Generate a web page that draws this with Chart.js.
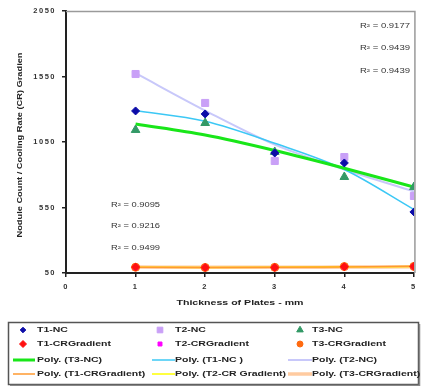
<!DOCTYPE html>
<html>
<head>
<meta charset="utf-8">
<script src="https://cdn.jsdelivr.net/npm/chart.js@4.4.1/dist/chart.umd.min.js"></script>
<style>
html,body{margin:0;padding:0;background:#fff;}
canvas{display:block;}
</style>
</head>
<body>
<canvas id="c" width="421" height="386"></canvas>
<script>
// ---- data ----
const thickness = [1, 2, 3, 4, 5];
const t1NC = [1287, 1264, 966, 890, 516];
const t2NC = [1569, 1348, 905, 935, 638];
const t3NC = [1142, 1195, 974, 783, 706];
const t1CR = [95, 92, 92, 98, 100];
const t2CR = [93, 92, 92, 96, 99];
const t3CR = [94, 92, 93, 99, 100];
const polyT3NC = [1187, 1103, 985, 850, 706];
const polyT1NC = [1290, 1208, 1040, 840, 535];
const polyT2NC = [1575, 1290, 1030, 840, 672];
const polyT1CR = [94, 92, 93, 96, 101];
const polyT2CR = [94, 92, 93, 97, 99];
const polyT3CR = [95, 93, 93, 95, 97];
const xTicks = [0, 1, 2, 3, 4, 5];
const yTicks = [50, 550, 1050, 1550, 2050];
const r2Right = ['R² = 0.9177', 'R² = 0.9439', 'R² = 0.9439'];
const r2Left = ['R² = 0.9095', 'R² = 0.9216', 'R² = 0.9499'];
const xTitle = 'Thickness of Plates - mm';
const yTitle = 'Nodule Count / Cooling Rate (CR) Gradien';

const FAM = '"Liberation Sans", Arial, sans-serif';
const pts = arr => thickness.map((x, i) => ({x: x, y: arr[i]}));

function markerSet(label, arr, style, radius, color, legendRadius) {
  return {label, data: pts(arr), showLine: false, pointStyle: style, pointRadius: radius,
    pointBackgroundColor: color, pointBorderColor: color, pointBorderWidth: 1, order: 0,
    _kind: 'marker', _legendRadius: legendRadius};
}
function polySet(label, arr, color, width) {
  return {label, data: pts(arr), showLine: true, pointRadius: 0, borderColor: color,
    backgroundColor: color, borderWidth: width, cubicInterpolationMode: 'monotone', fill: false,
    order: 1, _kind: 'line'};
}

const datasets = [
  markerSet('T1-NC', t1NC, 'rectRot', 4, '#0c0ca8', 2.8),
  markerSet('T2-NC', t2NC, 'rect', 5, '#c9a0f7', 4),
  markerSet('T3-NC', t3NC, 'triangle', 5, '#339966', 3.8),
  markerSet('T1-CRGradient', t1CR, 'rectRot', 4, '#ff1010', 3.5),
  markerSet('T2-CRGradient', t2CR, 'rect', 3, '#ff00ff', 2.8),
  markerSet('T3-CRGradient', t3CR, 'circle', 4, '#ff6a10', 3),
  polySet('Poly. (T3-NC)', polyT3NC, '#19e619', 3),
  polySet('Poly. (T1-NC )', polyT1NC, '#3cc8f5', 1.5),
  polySet('Poly. (T2-NC)', polyT2NC, '#c8c8fa', 2),
  polySet('Poly. (T1-CRGradient)', polyT1CR, '#ff9a30', 1.5),
  polySet('Poly. (T2-CR Gradient)', polyT2CR, '#ffff00', 1.5),
  polySet('Poly. (T3-CRGradient)', polyT3CR, '#ffcba0', 3.5)
];
datasets[11].order = 3; datasets[10].order = 2; datasets[9].order = 2;

function stretchText(ctx, text, x, y, targetW, align) {
  const w = ctx.measureText(text).width;
  const sx = targetW / w;
  ctx.save();
  ctx.translate(x, y);
  ctx.scale(sx, 1);
  ctx.textAlign = align || 'left';
  ctx.fillText(text, 0, 0);
  ctx.restore();
}

const decor = {
  id: 'decor',
  beforeDraw(chart) {
    chart.ctx.letterSpacing = '1.5px';
  },
  beforeDatasetsDraw(chart) {
    chart.ctx.letterSpacing = '0px';
    const {ctx, chartArea: a} = chart;
    ctx.save();
    ctx.strokeStyle = '#9a9a9a';
    ctx.lineWidth = 1.5;
    ctx.beginPath();
    ctx.moveTo(a.left, a.top + 0.5);
    ctx.lineTo(a.right + 1, a.top + 0.5);
    ctx.lineTo(a.right + 1, a.bottom);
    ctx.stroke();
    ctx.restore();
  },
  afterDraw(chart) {
    const {ctx, chartArea: a} = chart;
    ctx.save();
    ctx.letterSpacing = '0px';
    ctx.fillStyle = '#222';
    ctx.textBaseline = 'middle';
    ctx.font = 'bold 7px ' + FAM;
    stretchText(ctx, xTitle, (a.left + a.right) / 2, 303, 127, 'center');
    ctx.save();
    ctx.translate(20, (a.top + a.bottom) / 2 + 3);
    ctx.rotate(-Math.PI / 2);
    ctx.font = 'bold 7.5px ' + FAM;
    stretchText(ctx, yTitle, 0, 0, 185, 'center');
    ctx.restore();
    ctx.font = '6.5px ' + FAM;
    ctx.fillStyle = '#333';
    r2Right.forEach((t, i) => stretchText(ctx, t, 410, 26 + i * 22.5, 50, 'right'));
    r2Left.forEach((t, i) => stretchText(ctx, t, 111, 205 + i * 21.5, 49, 'left'));
    // legend box
    ctx.strokeStyle = '#555';
    ctx.lineWidth = 1.5;
    ctx.strokeRect(8.5, 322.5, 410, 62);
    ctx.strokeStyle = '#888';
    ctx.beginPath();
    ctx.moveTo(10, 385.5); ctx.lineTo(419.5, 385.5); ctx.lineTo(419.5, 324);
    ctx.stroke();
    const colMarker = [23, 160, 300];
    const colLine = [[13, 35], [152, 175], [288, 312]];
    const colText = [37, 175, 312];
    const rowY = [330, 344, 360, 374];
    ctx.font = 'bold 7px ' + FAM;
    const sx = 74 / ctx.measureText('T1-CRGradient').width;
    chart.data.datasets.forEach((ds, i) => {
      const col = i % 3, row = Math.floor(i / 3);
      const y = rowY[row];
      if (ds._kind === 'marker') {
        ctx.fillStyle = ds.pointBackgroundColor;
        ctx.strokeStyle = ds.pointBorderColor;
        ctx.lineWidth = 1;
        Chart.helpers.drawPoint(ctx, {pointStyle: ds.pointStyle, radius: ds._legendRadius, borderWidth: 1, rotation: 0}, colMarker[col], y);
      } else {
        ctx.strokeStyle = ds.borderColor;
        ctx.lineWidth = Math.max(ds.borderWidth, 1.5);
        ctx.beginPath();
        ctx.moveTo(colLine[col][0], y);
        ctx.lineTo(colLine[col][1], y);
        ctx.stroke();
      }
      ctx.fillStyle = '#222';
      ctx.save();
      ctx.translate(colText[col], y);
      ctx.scale(sx, 1);
      ctx.textAlign = 'left';
      ctx.fillText(ds.label, 0, 0);
      ctx.restore();
    });
    ctx.restore();
  }
};

const tickFont = {size: 7.5, weight: 'bold', family: FAM};
new Chart(document.getElementById('c'), {
  type: 'scatter',
  data: {datasets},
  options: {
    responsive: false,
    animation: false,
    layout: {padding: {top: 11, right: 5, left: 0, bottom: 0}},
    plugins: {legend: {display: false}, tooltip: {enabled: false}},
    scales: {
      x: {
        type: 'linear', min: 0, max: 5,
        afterBuildTicks: s => { s.ticks = xTicks.map(v => ({value: v})); },
        afterFit: s => { s.height = 113; },
        grid: {drawOnChartArea: false, drawTicks: true, tickLength: 4, color: '#222', lineWidth: 1.5},
        border: {color: '#222', width: 2},
        ticks: {font: tickFont, color: '#333', padding: 5, maxRotation: 0, callback: v => String(v)}
      },
      y: {
        type: 'linear', min: 50, max: 2050,
        afterBuildTicks: s => { s.ticks = yTicks.map(v => ({value: v})); },
        afterFit: s => { s.width = 66; },
        grid: {drawOnChartArea: false, drawTicks: true, tickLength: 4, color: '#222', lineWidth: 1.5},
        border: {color: '#222', width: 2},
        ticks: {font: tickFont, color: '#333', padding: 6, callback: v => String(v)}
      }
    }
  },
  plugins: [decor]
});
</script>
</body>
</html>
